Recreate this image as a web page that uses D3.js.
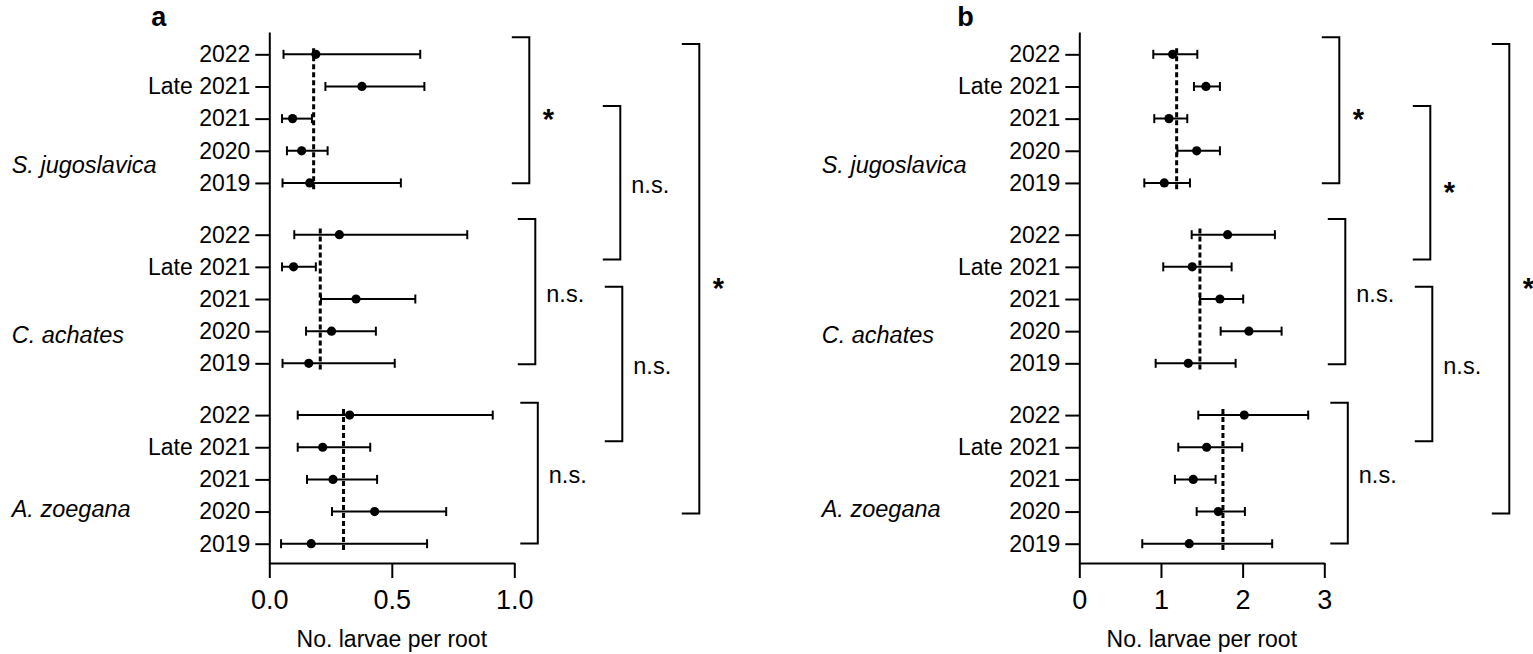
<!DOCTYPE html>
<html>
<head>
<meta charset="utf-8">
<script src="https://d3js.org/d3.v7.min.js"></script>
<style>
    body { margin: 0; background: #fff; }
    text { font-family: "Liberation Sans", Arial, sans-serif; fill: #000; }
</style>
</head>
<body>
<div id="chart"></div>
<script>

// categories
let species = ["S. jugoslavica", "C. achates", "A. zoegana"];
let years = ["2022", "Late 2021", "2021", "2020", "2019"];

// panel a - values per species/year (same order as above)
let aMean = [0.19, 0.378, 0.095, 0.132, 0.165, 0.286, 0.099, 0.354, 0.254, 0.161, 0.328, 0.218, 0.26, 0.43, 0.171];
let aLow = [0.058, 0.229, 0.052, 0.072, 0.054, 0.102, 0.052, 0.211, 0.15, 0.054, 0.116, 0.116, 0.154, 0.256, 0.048];
let aHigh = [0.616, 0.633, 0.174, 0.238, 0.537, 0.808, 0.19, 0.596, 0.435, 0.512, 0.912, 0.412, 0.44, 0.722, 0.644];
let aSpeciesMean = [0.181, 0.208, 0.303];
let aTicks = [0, 0.5, 1.0];
let aSig = ["*", "n.s.", "n.s.", "n.s.", "n.s.", "*"];

// panel b
let bMean = [1.143, 1.551, 1.098, 1.437, 1.041, 1.816, 1.383, 1.722, 2.077, 1.334, 2.02, 1.559, 1.395, 1.702, 1.346];
let bLow = [0.906, 1.404, 0.918, 1.2, 0.796, 1.376, 1.028, 1.477, 1.731, 0.935, 1.457, 1.212, 1.171, 1.437, 0.771];
let bHigh = [1.445, 1.722, 1.322, 1.722, 1.355, 2.395, 1.865, 2.007, 2.477, 1.914, 2.803, 1.995, 1.669, 2.028, 2.362];
let bSpeciesMean = [1.192, 1.477, 1.759];
let bTicks = [0, 1, 2, 3];
let bSig = ["*", "*", "n.s.", "n.s.", "n.s.", "*"];

// comparison brackets (in row units) - which rows each bracket spans
let bracketFrom = [-0.53, 1.61, 5.12, 7.23, 10.84, -0.32];
let bracketTo = [4.01, 6.38, 9.64, 12.03, 15.21, 14.28];


class ForestVis {

    constructor(svg, cfg) {
        this.svg = svg;
        this.cfg = cfg;
        this.initVis();
    }

    initVis() {
        let vis = this;
        let cfg = vis.cfg;

        vis.ox = cfg.ox;
        vis.width = 245;
        vis.gap = 5.61; // row units between species blocks

        vis.g = vis.svg.append("g");

        vis.x = d3.scaleLinear()
            .domain(cfg.domain)
            .range([vis.ox, vis.ox + vis.width]);

        // rows: top of axis at 32, bottom at 563
        vis.y = d3.scaleLinear()
            .domain([-0.694, 15.82])
            .range([32, 563]);

        vis.rows = [];
        species.forEach((s, i) => {
            years.forEach((yr, j) => {
                let k = i * 5 + j;
                vis.rows.push({
                    species: s, year: yr, pos: i * vis.gap + j,
                    mean: cfg.mean[k], low: cfg.low[k], high: cfg.high[k]
                });
            });
        });

        vis.drawAxes();
        vis.drawMarks();
        vis.drawBrackets();
    }

    drawAxes() {
        let vis = this;

        let yAxis = d3.axisLeft(vis.y)
            .tickValues(vis.rows.map(d => d.pos))
            .tickFormat((d, i) => vis.rows[i].year)
            .tickSize(14)
            .tickSizeOuter(0)
            .tickPadding(5);

        let yg = vis.g.append("g")
            .attr("transform", `translate(${vis.ox},0)`)
            .call(yAxis);
        yg.selectAll("text").style("font-size", "23px");

        let xAxis = d3.axisBottom(vis.x)
            .tickValues(vis.cfg.ticks)
            .tickFormat(vis.cfg.fmt)
            .tickSize(15)
            .tickSizeOuter(0)
            .tickPadding(12);

        let xg = vis.g.append("g")
            .attr("transform", `translate(0,563)`)
            .call(xAxis);
        xg.selectAll("text").style("font-size", "27px");

        vis.g.selectAll(".domain, .tick line")
            .attr("stroke", "#000")
            .attr("stroke-width", 2);

        // axis title
        vis.g.append("text")
            .attr("x", vis.ox + vis.width / 2)
            .attr("y", 646.7)
            .attr("text-anchor", "middle")
            .style("font-size", "23px")
            .text("No. larvae per root");

        // panel letter
        vis.g.append("text")
            .attr("x", vis.ox + vis.cfg.letterDx)
            .attr("y", 26)
            .style("font-size", "27px")
            .style("font-weight", "bold")
            .text(vis.cfg.letter);

        // species names
        let labelPos = [3.44, 8.73, 14.14];
        vis.g.selectAll(".sp-label")
            .data(species)
            .enter()
            .append("text")
            .attr("class", "sp-label")
            .attr("x", vis.ox - 257.6)
            .attr("y", (d, i) => vis.y(labelPos[i]))
            .attr("dy", "0.35em")
            .style("font-size", "23.5px")
            .style("font-style", "italic")
            .text(d => d);
    }

    drawMarks() {
        let vis = this;

        // dashed species means
        vis.g.selectAll(".mean-line")
            .data(vis.cfg.speciesMean)
            .enter()
            .append("line")
            .attr("class", "mean-line")
            .attr("x1", d => vis.x(d))
            .attr("x2", d => vis.x(d))
            .attr("y1", (d, i) => vis.y(i * vis.gap - 0.19))
            .attr("y2", (d, i) => vis.y(i * vis.gap + 4.27))
            .attr("stroke", "#000")
            .attr("stroke-width", 3)
            .attr("stroke-dasharray", "5,3");

        let bars = vis.g.selectAll(".err")
            .data(vis.rows)
            .enter()
            .append("g")
            .attr("class", "err");

        bars.append("line")
            .attr("x1", d => vis.x(d.low))
            .attr("x2", d => vis.x(d.high))
            .attr("y1", d => vis.y(d.pos))
            .attr("y2", d => vis.y(d.pos))
            .attr("stroke", "#000")
            .attr("stroke-width", 2);

        ["low", "high"].forEach(end => {
            bars.append("line")
                .attr("x1", d => vis.x(d[end]))
                .attr("x2", d => vis.x(d[end]))
                .attr("y1", d => vis.y(d.pos) - 4.5)
                .attr("y2", d => vis.y(d.pos) + 4.5)
                .attr("stroke", "#000")
                .attr("stroke-width", 2);
        });

        bars.append("circle")
            .attr("cx", d => vis.x(d.mean))
            .attr("cy", d => vis.y(d.pos))
            .attr("r", 4.6)
            .attr("fill", "#000");
    }

    drawBrackets() {
        let vis = this;
        // horizontal offset of each bracket from the y axis
        let bx = [260, 351, 266, 353, 268.5, 430];
        let arm = 17.5;

        bracketFrom.forEach((from, i) => {
            let x = vis.ox + bx[i];
            let y0 = vis.y(from), y1 = vis.y(bracketTo[i]);

            vis.g.append("path")
                .attr("d", `M${x - arm},${y0}H${x}V${y1}H${x - arm}`)
                .attr("fill", "none")
                .attr("stroke", "#000")
                .attr("stroke-width", 2);

            let label = vis.cfg.sig[i];
            let mid = (y0 + y1) / 2 + 3;
            if (label === "*") {
                vis.g.append("text")
                    .attr("x", x + 19)
                    .attr("y", mid + 16)
                    .attr("text-anchor", "middle")
                    .style("font-size", "29px")
                    .style("font-weight", "bold")
                    .text(label);
            } else {
                vis.g.append("text")
                    .attr("x", x + 11)
                    .attr("y", mid)
                    .attr("dy", "0.3em")
                    .style("font-size", "23.5px")
                    .text(label);
            }
        });
    }
}

let svg = d3.select("#chart").append("svg")
    .attr("width", 1533)
    .attr("height", 654);

new ForestVis(svg, {
    ox: 269.3, domain: [0, 1], ticks: aTicks, fmt: d3.format(".1f"),
    mean: aMean, low: aLow, high: aHigh, speciesMean: aSpeciesMean,
    sig: aSig, letter: "a", letterDx: -118
});

new ForestVis(svg, {
    ox: 1079.3, domain: [0, 3], ticks: bTicks, fmt: d3.format("d"),
    mean: bMean, low: bLow, high: bHigh, speciesMean: bSpeciesMean,
    sig: bSig, letter: "b", letterDx: -122
});

</script>
</body>
</html>
